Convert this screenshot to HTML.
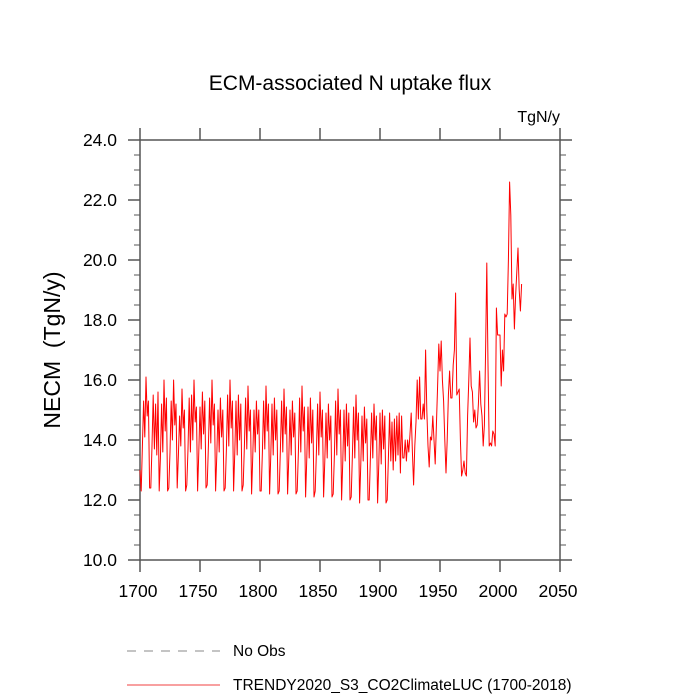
<!DOCTYPE html>
<html><head><meta charset="utf-8"><style>
html,body{margin:0;padding:0;background:#fff}
svg{display:block;font-family:"Liberation Sans",sans-serif}
</style></head><body>
<svg id="chart" width="700" height="700" viewBox="0 0 700 700">
<text x="350" y="90" text-anchor="middle" font-size="21">ECM-associated N uptake flux</text>
<text x="560" y="122" text-anchor="end" font-size="16">TgN/y</text>
<text transform="translate(60,350) rotate(-90)" text-anchor="middle" font-size="23">NECM&#160; (TgN/y)</text>
<g id="axes"></g>
<g id="series"></g>
<g>
<line x1="127" y1="651" x2="220" y2="651" stroke="#888" stroke-width="1" stroke-dasharray="9,8"/>
<text x="233" y="656" font-size="15.5">No Obs</text>
<line x1="127" y1="685" x2="220" y2="685" stroke="#e00" stroke-width="0.8"/>
<text x="233" y="690" font-size="15.5">TRENDY2020_S3_CO2ClimateLUC (1700-2018)</text>
</g>
</svg>
<script>
const startYear = 1700;
const values = [
13.0,12.3,13.8,15.3,14.1,16.1,14.8,15.3,12.4,12.4,
13.8,15.5,13.7,15.2,13.5,15.6,12.3,13.4,15.2,13.6,
16.0,14.3,15.4,12.3,12.4,13.6,15.3,14.0,16.0,14.5,
15.2,12.4,13.5,14.8,13.8,15.7,14.4,15.0,12.3,12.5,
13.7,15.4,13.6,15.5,14.0,16.0,14.6,15.1,12.3,13.6,
15.1,13.7,15.6,14.2,15.3,12.4,12.5,13.8,15.4,13.9,
16.0,14.5,15.2,12.3,13.5,15.0,13.6,15.4,14.1,15.0,
12.3,12.4,13.7,15.5,13.8,16.0,14.4,15.3,12.3,13.6,
15.3,13.5,15.5,14.0,15.2,12.3,12.5,13.8,15.4,13.7,
15.8,14.3,15.0,12.2,13.5,15.0,13.6,15.3,14.2,15.0,
12.3,12.3,13.6,15.3,13.7,15.8,14.3,15.2,12.2,13.5,
15.2,13.5,15.4,14.0,15.0,12.2,12.3,13.7,15.3,13.6,
15.7,14.2,15.1,12.2,13.4,15.0,13.5,15.3,14.1,14.9,
12.2,12.3,13.6,15.4,13.6,15.8,14.3,15.1,12.1,13.4,
15.1,13.4,15.4,13.9,15.0,12.1,12.3,13.6,15.2,13.5,
15.6,14.1,15.0,12.1,13.3,14.9,13.4,15.2,14.0,14.8,
12.1,12.2,13.5,15.3,13.5,15.7,14.2,15.0,12.0,13.3,
15.0,13.3,15.2,13.8,14.9,12.0,12.1,13.5,15.1,13.4,
15.5,14.0,14.9,11.9,13.2,14.8,13.3,15.1,13.9,14.7,
12.0,12.0,13.4,14.9,13.4,15.2,14.0,14.8,11.9,13.2,
14.9,13.2,15.0,13.7,14.8,11.9,12.0,13.4,14.9,13.3,
14.6,13.0,14.7,13.3,14.8,13.5,14.9,12.9,14.8,13.4,
13.4,14.0,13.3,14.0,13.6,14.2,14.9,13.6,12.5,13.8,
14.6,16.0,14.7,16.1,14.7,14.7,15.2,14.7,17.0,15.0,
13.8,13.1,14.1,14.0,14.8,14.0,13.2,14.5,15.8,17.2,
16.3,17.3,16.0,15.3,14.0,12.9,14.0,15.5,16.3,15.4,
15.4,16.5,17.0,18.9,15.5,15.6,15.7,14.0,12.8,13.0,
13.3,12.9,12.8,14.8,16.0,17.4,15.8,15.6,14.6,15.0,
14.4,14.5,15.2,16.3,15.2,14.8,13.8,14.5,17.0,19.9,
16.5,13.8,13.9,13.8,14.3,14.2,13.8,18.4,17.5,17.5,
17.5,15.8,17.0,16.3,18.2,18.1,18.2,20.0,22.6,21.5,
18.7,19.2,17.7,18.8,19.6,20.4,19.0,18.3,19.2
];
const xTicks = [1700,1750,1800,1850,1900,1950,2000,2050];
const yTicks = [10,12,14,16,18,20,22,24];
const yTickLabels = ["10.0","12.0","14.0","16.0","18.0","20.0","22.0","24.0"];

const NS="http://www.w3.org/2000/svg";
const L=140,R=560,T=140,B=560,xMin=1700,xMax=2050,yMin=10,yMax=24;
const xs=v=>L+(v-xMin)/(xMax-xMin)*(R-L);
const ys=v=>B-(v-yMin)/(yMax-yMin)*(B-T);
function mk(tag,attrs,parent){const e=document.createElementNS(NS,tag);for(const k in attrs)e.setAttribute(k,attrs[k]);parent.appendChild(e);return e;}
const axes=document.getElementById('axes');
const ac="#555";
const frame=mk('rect',{x:L,y:T,width:R-L,height:B-T,fill:'none',stroke:ac,'stroke-width':1.5},axes);


xTicks.forEach((t,i)=>{
  const x=xs(t);
  const a=mk('line',{x1:x,y1:B,x2:x,y2:B+12,stroke:ac,'stroke-width':1.5},axes);
  
  
  const b=mk('line',{x1:x,y1:T,x2:x,y2:T-12,stroke:ac,'stroke-width':1.5},axes);
  
  
  const tx=mk('text',{x:x-2,y:B+37,'text-anchor':'middle','font-size':17.5},axes);
  tx.textContent=t;
  
  
});
for(let v=yMin;v<=yMax+1e-9;v+=0.5){
  const y=ys(v);const major=Math.abs(v-Math.round(v/2)*2)<1e-9;const len=major?12:6;
  const a=mk('line',{x1:L,y1:y,x2:L-len,y2:y,stroke:ac,'stroke-width':major?1.5:1},axes);
  
  
  const b=mk('line',{x1:R,y1:y,x2:R+len,y2:y,stroke:ac,'stroke-width':major?1.5:1},axes);
  
  
}
yTicks.forEach((t,i)=>{
  const tx=mk('text',{x:117,y:ys(t)+6,'text-anchor':'end','font-size':17.5},axes);
  tx.textContent=yTickLabels[i];
  
  
});
const pts=values.map((v,i)=>xs(startYear+i).toFixed(2)+','+ys(v).toFixed(2)).join(' ');
const line=mk('polyline',{points:pts,fill:'none',stroke:'#f00','stroke-width':1,'stroke-linejoin':'round'},document.getElementById('series'));


</script>
</body></html>
